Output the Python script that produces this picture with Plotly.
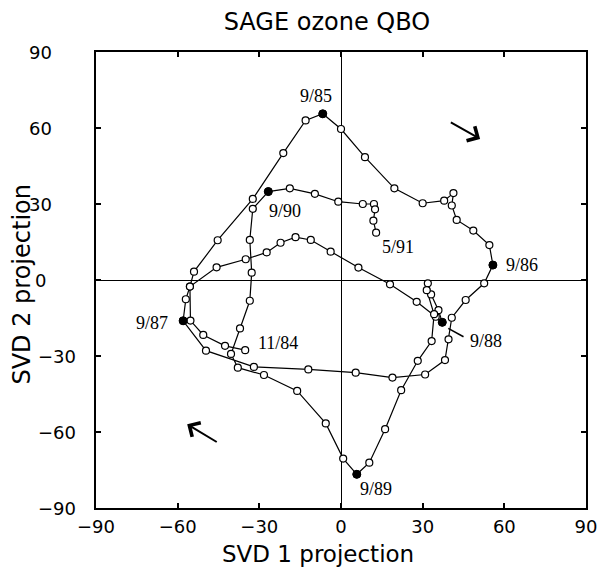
import plotly.graph_objects as go

# ---- data: SVD projections, monthly, 11/84 ... 5/91 ----
svd1 = [-35.2, -42.6, -50.6, -55.3, -55.5, -54.0, -45.3, -32.4, -21.2, -13.0, -6.7,
        0.0, 8.8, 19.6, 30.0, 37.9, 41.3, 40.7, 42.5, 48.6, 54.5, 55.8,
        52.6, 45.8, 40.7, 39.5, 38.2, 30.9, 18.9, 5.4, -12.0, -32.0, -49.6, -58.0,
        -57.0, -55.5, -45.7, -35.0, -27.3, -22.2, -16.7, -11.1, -3.8, 6.4, 18.0, 27.8, 34.8, 37.2,
        35.8, 33.1, 31.9, 31.5, 34.2, 33.3, 28.2, 22.1, 16.2, 10.4, 5.8,
        0.8, -5.6, -16.1, -28.3, -37.9, -40.4, -37.1, -33.5, -32.8, -33.5, -32.4, -26.7,
        -18.8, -9.6, -1.0, 8.0, 12.1, 12.5, 11.9, 12.9]
svd2 = [-27.7, -26.0, -21.7, -16.0, -2.6, 3.3, 15.7, 32.0, 50.1, 63.0, 65.6,
        59.6, 48.5, 36.2, 30.3, 31.3, 34.3, 29.4, 23.7, 19.5, 13.8, 5.9,
        -1.3, -7.9, -14.9, -23.4, -31.6, -37.3, -38.5, -36.6, -35.3, -34.3, -27.9, -16.1,
        -7.6, -2.6, 5.0, 8.2, 10.9, 14.7, 16.9, 15.8, 11.2, 4.9, -1.7, -8.6, -14.5, -16.7,
        -11.9, -5.7, -1.3, -4.0, -13.5, -24.1, -31.9, -43.5, -58.9, -72.1, -76.7,
        -70.5, -56.6, -43.8, -37.5, -34.6, -29.2, -19.1, -8.2, 2.9, 15.8, 28.1, 34.9,
        36.2, 34.0, 30.9, 30.0, 30.0, 27.9, 23.4, 18.7]

date_labels = ["11/84", "9/85", "9/86", "9/87", "9/88", "9/89", "9/90", "5/91"]
date_index = [0, 10, 21, 33, 47, 58, 70, 78]
filled_dates = ["9/85", "9/86", "9/87", "9/88", "9/89", "9/90"]

ticks = [-90, -60, -30, 0, 30, 60, 90]

# ---- styling / placement (not data) ----
label_pos = {
    "9/85": (-9.2, 72.7), "9/90": (-20.6, 27.3), "5/91": (20.8, 13.0),
    "9/86": (66.5, 5.9), "9/87": (-69.5, -17.0), "11/84": (-23.2, -24.9),
    "9/88": (53.3, -24.1), "9/89": (12.9, -82.6),
}
leader_988 = ((39.4, -19.1), (45.0, -22.4))
arrows = [((39.8, 62.6), (51.1, 55.7)), ((-45.1, -64.3), (-56.5, -56.9))]

SANS = "DejaVu Sans"
SERIF = "Liberation Serif"

fig = go.Figure()

fig.add_trace(go.Scatter(
    x=svd1, y=svd2, mode="lines+markers",
    line=dict(color="black", width=1.2),
    marker=dict(symbol="circle", size=7, color="white",
                line=dict(color="black", width=1.2)),
    hoverinfo="skip", showlegend=False,
))

fx = [svd1[date_index[date_labels.index(d)]] for d in filled_dates]
fy = [svd2[date_index[date_labels.index(d)]] for d in filled_dates]
fig.add_trace(go.Scatter(
    x=fx, y=fy, mode="markers",
    marker=dict(symbol="circle", size=8, color="black",
                line=dict(color="black", width=1)),
    hoverinfo="skip", showlegend=False,
))

annotations = []
for d in date_labels:
    lx, ly = label_pos[d]
    annotations.append(dict(x=lx, y=ly, xref="x", yref="y", text=d, showarrow=False,
                            font=dict(family=SERIF, size=18, color="black"),
                            xanchor="center", yanchor="middle"))

for (tail, head) in arrows:
    annotations.append(dict(x=head[0], y=head[1], ax=tail[0], ay=tail[1],
                            xref="x", yref="y", axref="x", ayref="y",
                            text="", showarrow=True, arrowhead=4, arrowsize=1.6,
                            arrowwidth=2, arrowcolor="black", standoff=0))

# y tick labels (placed like the original typesetting)
for v in ticks:
    xpos = -0.113 if v >= 0 else -0.080
    annotations.append(dict(x=xpos, y=v, xref="paper", yref="y",
                            text=("\u2212" + str(-v)) if v < 0 else str(v),
                            showarrow=False, xanchor="center", yanchor="middle",
                            font=dict(family=SANS, size=18, color="black")))

# axis titles
annotations.append(dict(x=0.453, y=-0.1338, xref="paper", yref="paper",
                        text="SVD 1 projection", showarrow=False,
                        xanchor="center", yanchor="bottom",
                        font=dict(family=SANS, size=23, color="black")))
annotations.append(dict(x=-0.151, y=0.49, xref="paper", yref="paper",
                        text="SVD 2 projection", showarrow=False, textangle=-90,
                        xanchor="center", yanchor="middle",
                        font=dict(family=SANS, size=24, color="black")))

fig.add_shape(type="line", x0=leader_988[0][0], y0=leader_988[0][1],
              x1=leader_988[1][0], y1=leader_988[1][1],
              xref="x", yref="y", line=dict(color="black", width=1.5))

axis_common = dict(
    range=[-90, 90], tickvals=ticks, ticks="inside", ticklen=5, tickwidth=1.5,
    tickcolor="black", showline=True, linecolor="black", linewidth=2,
    mirror="ticks", showgrid=False, zeroline=True, zerolinecolor="black",
    zerolinewidth=1.2, automargin=False,
)

fig.update_layout(
    width=611, height=569,
    margin=dict(l=96, r=25, t=52, b=61),
    paper_bgcolor="white", plot_bgcolor="white",
    title=dict(text="SAGE ozone QBO", x=0.535, xanchor="center",
               y=1 - 22 / 569, yanchor="middle",
               font=dict(family=SANS, size=24, color="black")),
    xaxis=dict(**axis_common,
               tickfont=dict(family=SANS, size=18, color="black"),
               ticklabelstandoff=1),
    yaxis=dict(**axis_common, showticklabels=False),
    annotations=annotations,
)

fig.write_html("out.html")
